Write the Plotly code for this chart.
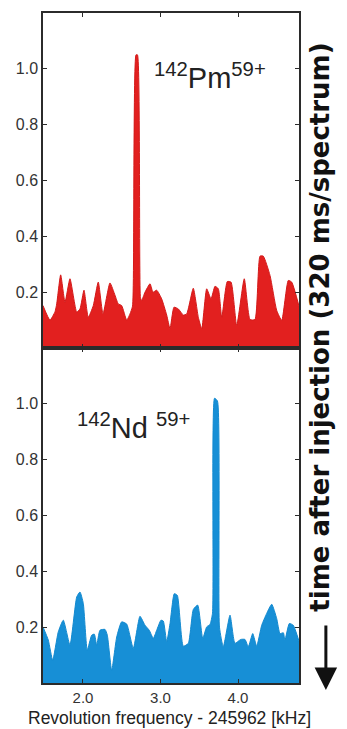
import plotly.graph_objects as go

# Revolution frequency offsets (kHz) and normalised amplitudes
pm_freq = [1.484, 1.574, 1.639, 1.661, 1.712, 1.768, 1.832, 1.919, 1.961, 2.013,
           2.068, 2.133, 2.197, 2.258, 2.348, 2.413, 2.455, 2.499, 2.564, 2.606,
           2.639, 2.684, 2.703, 2.742, 2.757, 2.800, 2.865, 2.903, 2.951, 3.015,
           3.080, 3.123, 3.174, 3.230, 3.294, 3.338, 3.423, 3.488, 3.532, 3.596,
           3.652, 3.703, 3.746, 3.790, 3.862, 3.910, 3.983, 4.081, 4.155, 4.219,
           4.284, 4.326, 4.413, 4.499, 4.564, 4.649, 4.693, 4.787]
pm_amp = [0.152, 0.100, 0.130, 0.158, 0.262, 0.164, 0.248, 0.129, 0.140, 0.207,
          0.110, 0.152, 0.236, 0.122, 0.233, 0.189, 0.158, 0.152, 0.100, 0.122,
          0.150, 1.050, 1.050, 0.180, 0.170, 0.200, 0.230, 0.200, 0.207, 0.176,
          0.118, 0.069, 0.146, 0.140, 0.118, 0.122, 0.214, 0.110, 0.069, 0.212,
          0.176, 0.221, 0.212, 0.110, 0.238, 0.236, 0.081, 0.248, 0.102, 0.102,
          0.329, 0.329, 0.260, 0.135, 0.099, 0.242, 0.236, 0.150]

nd_freq = [1.484, 1.552, 1.609, 1.681, 1.746, 1.832, 1.919, 1.961, 2.004, 2.055,
           2.112, 2.146, 2.177, 2.219, 2.284, 2.314, 2.370, 2.435, 2.499, 2.564,
           2.649, 2.735, 2.800, 2.855, 2.907, 2.951, 3.006, 3.036, 3.080, 3.123,
           3.178, 3.217, 3.294, 3.359, 3.423, 3.480, 3.545, 3.596, 3.639, 3.671,
           3.697, 3.735, 3.761, 3.810, 3.897, 3.961, 4.035, 4.090, 4.133, 4.190,
           4.241, 4.306, 4.370, 4.435, 4.499, 4.542, 4.585, 4.606, 4.662, 4.713,
           4.787]
nd_amp = [0.201, 0.154, 0.082, 0.183, 0.225, 0.136, 0.308, 0.326, 0.285, 0.118,
          0.171, 0.175, 0.136, 0.189, 0.192, 0.171, 0.046, 0.165, 0.219, 0.211,
          0.124, 0.239, 0.207, 0.189, 0.160, 0.189, 0.225, 0.222, 0.148, 0.213,
          0.320, 0.314, 0.132, 0.142, 0.263, 0.279, 0.160, 0.201, 0.210, 0.250,
          1.020, 1.010, 0.200, 0.130, 0.243, 0.142, 0.156, 0.156, 0.130, 0.177,
          0.132, 0.207, 0.249, 0.282, 0.231, 0.177, 0.180, 0.154, 0.213, 0.207,
          0.150]

x_ticks = [2.0, 3.0, 4.0]
y_ticks = [0.2, 0.4, 0.6, 0.8, 1.0]
x_range = [1.484, 4.787]
y_range = [0, 1.2]

RED = "#e2201f"
BLUE = "#178fd6"
AXIS = "#2b2b2b"
FONT = "Liberation Sans, Arial, sans-serif"
SIDE_FONT = "DejaVu Sans, Liberation Sans, sans-serif"

fig = go.Figure()
fig.add_trace(go.Scatter(x=pm_freq, y=pm_amp, mode="lines", fill="tozeroy",
                         line=dict(color="#d41a1a", width=1, shape="spline", smoothing=0.5),
                         fillcolor=RED, xaxis="x", yaxis="y", showlegend=False))
fig.add_trace(go.Scatter(x=nd_freq, y=nd_amp, mode="lines", fill="tozeroy",
                         line=dict(color="#138ad0", width=1, shape="spline", smoothing=0.5),
                         fillcolor=BLUE, xaxis="x2", yaxis="y2", showlegend=False))

axis_common = dict(showline=True, linecolor=AXIS, linewidth=1.5, mirror="ticks",
                   ticks="inside", ticklen=4, tickwidth=1, tickcolor=AXIS,
                   showgrid=False, zeroline=False,
                   tickfont=dict(family=FONT, size=16, color="#333333"))

fig.update_layout(
    width=347, height=729,
    margin=dict(l=43, r=48, t=11, b=46),
    paper_bgcolor="white", plot_bgcolor="white",
    xaxis=dict(domain=[0, 1], range=x_range, tickvals=x_ticks, showticklabels=False,
               anchor="y", **axis_common),
    yaxis=dict(domain=[0.5, 1], range=y_range, tickvals=y_ticks, tickformat=".1f",
               anchor="x", **axis_common),
    xaxis2=dict(domain=[0, 1], range=x_range, tickvals=x_ticks, tickformat=".1f",
                anchor="y2", ticklabelstandoff=0, **axis_common),
    yaxis2=dict(domain=[0, 0.5], range=y_range, tickvals=y_ticks, tickformat=".1f",
                anchor="x2", **axis_common),
)
fig.update_xaxes(tickfont_size=15, selector=dict(anchor="y2"))

fig.add_annotation(x=2.89, y=0.975, xref="x", yref="y", xanchor="left", yanchor="middle",
                   text="<sup>142</sup>Pm<sup>59+</sup>", showarrow=False,
                   font=dict(family=FONT, size=29, color="#222222"))
fig.add_annotation(x=1.897, y=0.921, xref="x2", yref="y2", xanchor="left", yanchor="middle",
                   text="<sup>142</sup>Nd <sup>59+</sup>", showarrow=False,
                   font=dict(family=FONT, size=29, color="#222222"))

fig.add_annotation(x=0.496, y=-0.052, xref="paper", yref="paper", xanchor="center",
                   yanchor="middle", text="Revolution frequency - 245962 [kHz]",
                   showarrow=False, borderpad=0,
                   font=dict(family=FONT, size=17.5, color="#222222"))

fig.add_annotation(x=1.15, y=0.531, xref="paper", yref="paper", textangle=-90,
                   text="<b>time after injection (320 ms/spectrum)</b>", showarrow=False,
                   font=dict(family=SIDE_FONT, size=26, color="#111111"))
fig.add_annotation(x=1.105, y=-0.0104, xref="paper", yref="paper",
                   ax=0, ay=-66, axref="pixel", ayref="pixel",
                   text="", showarrow=True, arrowhead=2, arrowsize=1.5, arrowwidth=3,
                   arrowcolor="#111111")

fig.write_html("out.html")
